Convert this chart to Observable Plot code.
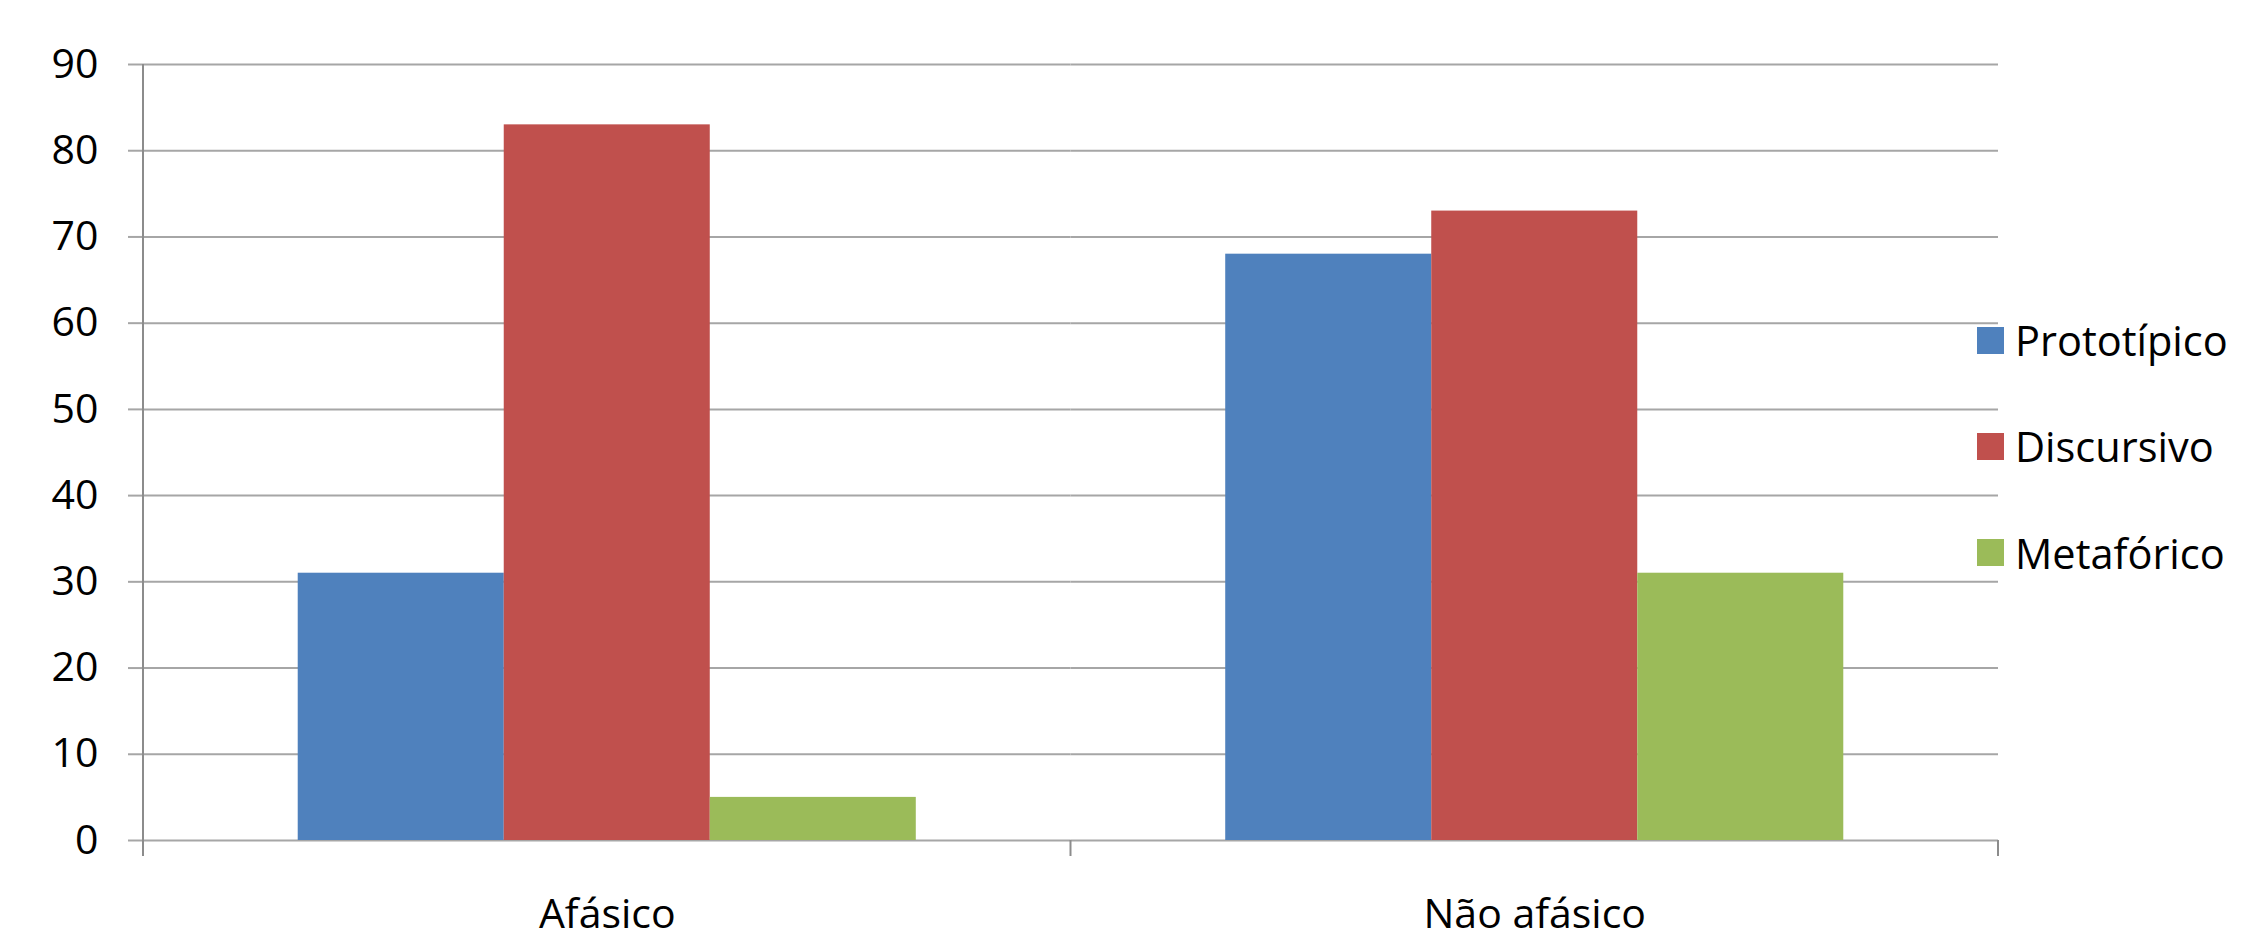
<!DOCTYPE html>
<html>
<head>
<meta charset="utf-8">
<script src="https://cdn.jsdelivr.net/npm/d3@7"></script>
<script src="https://cdn.jsdelivr.net/npm/@observablehq/plot@0.6"></script>
<style>
  html, body { margin: 0; padding: 0; background: #fff; }
  #wrap { position: relative; width: 2268px; height: 940px; font-family: "Open Sans", sans-serif; }
  #legend { position: absolute; left: 1977px; top: 287px; display: flex; flex-direction: column; }
  .item { height: 106.3px; display: flex; align-items: center; font-size: 41.5px; color: #000; }
  .sw { width: 27px; height: 27px; margin-right: 11px; }
</style>
</head>
<body>
<div id="wrap"><div id="legend"></div></div>
<script>
const categories = ["Afásico", "Não afásico"];
const series = ["Prototípico", "Discursivo", "Metafórico"];
const prototipico = [31, 68];
const discursivo = [83, 73];
const metaforico = [5, 31];
const colors = ["#4F81BD", "#C0504D", "#9BBB59"];
const yTicks = [0, 10, 20, 30, 40, 50, 60, 70, 80, 90];

const valuesBySeries = [prototipico, discursivo, metaforico];
const data = [];
categories.forEach((c, i) => {
  series.forEach((s, j) => data.push({category: c, series: s, value: valuesBySeries[j][i]}));
});

const plot = Plot.plot({
  width: 2268,
  height: 940,
  marginLeft: 143,
  marginRight: 270,
  marginTop: 64,
  marginBottom: 100,
  style: {fontFamily: "Open Sans", fontSize: "41px", color: "#000", background: "#fff"},
  fx: {domain: categories, padding: 0, round: false, label: null},
  x: {domain: series, paddingInner: 0, paddingOuter: 0.751, round: false, axis: null},
  y: {domain: [0, 90], label: null},
  color: {domain: series, range: colors},
  marks: [
    Plot.gridY(yTicks, {stroke: "#a6a6a6", strokeOpacity: 1, strokeWidth: 2}),
    Plot.barY(data, {fx: "category", x: "series", y: "value", fill: "series"}),
    Plot.axisY(yTicks, {tickSize: 15, tickPadding: 30, stroke: "#a6a6a6", strokeWidth: 2, fill: "#000", fontSize: 41, label: null}),
    Plot.axisFx({anchor: "bottom", tickSize: 0, tickPadding: 58, fill: "#000", fontSize: 41, label: null})
  ]
});

document.getElementById("wrap").prepend(plot);

// Excel-style axis line and category boundary ticks, positioned from Plot's scales
const fx = plot.scale("fx");
const y = plot.scale("y");
const svg = d3.select(plot);
const left = fx.apply(categories[0]);
const y0 = y.apply(0);
const bounds = categories.map(c => fx.apply(c) + fx.bandwidth);
const g = svg.append("g").attr("stroke", "#8c8c8c").attr("stroke-width", 2);
g.append("line").attr("x1", left).attr("x2", left).attr("y1", y.apply(90)).attr("y2", y0 + 16);
bounds.forEach(b => g.append("line").attr("x1", b).attr("x2", b).attr("y1", y0).attr("y2", y0 + 16));

// Legend
const legend = d3.select("#legend");
series.forEach((s, i) => {
  const it = legend.append("div").attr("class", "item");
  it.append("div").attr("class", "sw").style("background", colors[i]);
  it.append("span").text(s);
});
</script>
</body>
</html>
